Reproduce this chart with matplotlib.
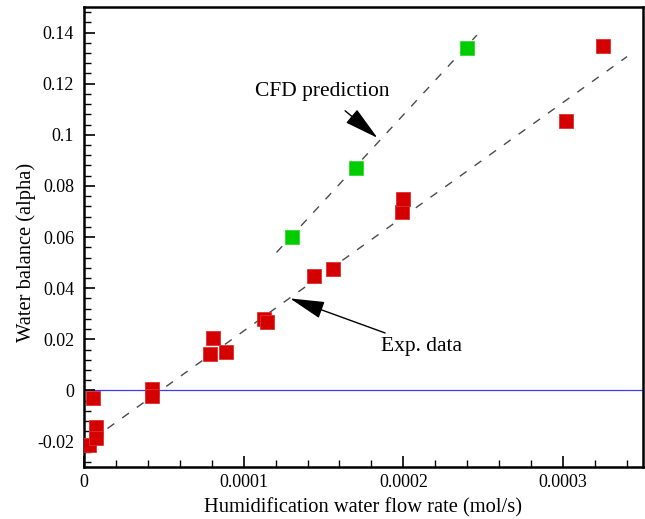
import matplotlib.pyplot as plt
import numpy as np
from matplotlib.ticker import MultipleLocator, FuncFormatter

# experimental points (red squares)
exp_x = [0.000003, 0.0000056, 0.0000075, 0.0000075, 0.0000428, 0.0000428,
         0.0000788, 0.0000806, 0.0000888, 0.000113, 0.0001144,
         0.000144, 0.000156, 0.000199, 0.0002, 0.000302, 0.000325]
exp_y = [-0.0215, -0.003, -0.0145, -0.0185, 0.0006, -0.0022,
         0.0142, 0.0205, 0.015, 0.028, 0.0268,
         0.0448, 0.0475, 0.0698, 0.0748, 0.1055, 0.1348]

# CFD points (green squares)
cfd_x = [0.00013, 0.0001706, 0.00024]
cfd_y = [0.060, 0.087, 0.134]

# dashed trend lines (end points)
cfd_line_x = [0.0001206, 0.000246]
cfd_line_y = [0.054, 0.139]
exp_line_x = [0.0000056, 0.00034]
exp_line_y = [-0.019, 0.1306]

plt.rcParams['font.family'] = ['Liberation Serif', 'DejaVu Serif']

fig = plt.figure(figsize=(6.45, 5.19), dpi=100)
ax = fig.add_axes([0.130, 0.100, 0.867, 0.8865])

ax.axhline(0, color='#3a3aff', lw=0.9, zorder=1)
ax.plot(cfd_line_x, cfd_line_y, color='#4a4a4a', lw=1.0, dashes=(6, 7), zorder=2)
ax.plot(exp_line_x, exp_line_y, color='#4a4a4a', lw=1.0, dashes=(6, 7), zorder=2)
ax.plot(exp_x, exp_y, 's', color='#d40000', mec='#e03030', mew=0.6, ms=9.5, zorder=3)
ax.plot(cfd_x, cfd_y, 's', color='#00cc00', mec='#30d830', mew=0.6, ms=9.5, zorder=3)

ax.annotate('CFD prediction', xy=(0.0001838, 0.0988), xytext=(0.000149, 0.117),
            fontsize=15.5, ha='center', va='center',
            arrowprops=dict(arrowstyle='-|>,head_length=1.4,head_width=0.35',
                            color='black', lw=1.0, shrinkA=8, shrinkB=0))
ax.annotate('Exp. data', xy=(0.000129, 0.036), xytext=(0.000186, 0.0173),
            fontsize=15.5, ha='left', va='center',
            arrowprops=dict(arrowstyle='-|>,head_length=1.4,head_width=0.35',
                            color='black', lw=1.0, shrinkA=2, shrinkB=0))

ax.set_xlim(0, 0.00035)
ax.set_ylim(-0.03, 0.15)
ax.xaxis.set_major_locator(MultipleLocator(0.0001))
ax.xaxis.set_minor_locator(MultipleLocator(0.00002))
ax.yaxis.set_major_locator(MultipleLocator(0.02))
ax.yaxis.set_minor_locator(MultipleLocator(0.004))
ax.xaxis.set_major_formatter(FuncFormatter(lambda v, p: '0' if abs(v) < 1e-12 else ('%.4f' % v)))
ax.yaxis.set_major_formatter(FuncFormatter(lambda v, p: '0' if abs(v) < 1e-12 else ('%g' % round(v, 3))))

ax.tick_params(which='both', direction='in', top=False, right=False, labelsize=13)
ax.tick_params(axis='x', pad=5)
ax.tick_params(axis='y', pad=7)
ax.tick_params(which='major', length=8, width=1.2)
ax.tick_params(which='minor', length=5, width=1.0)
for s in ax.spines.values():
    s.set_linewidth(1.8)

ax.set_xlabel('Humidification water flow rate (mol/s)', fontsize=14.8)
ax.set_ylabel('Water balance (alpha)', fontsize=14.8)
ax.xaxis.set_label_coords(0.5, -0.067)
ax.yaxis.set_label_coords(-0.086, 0.467)

fig.savefig('out.png', dpi=100)
